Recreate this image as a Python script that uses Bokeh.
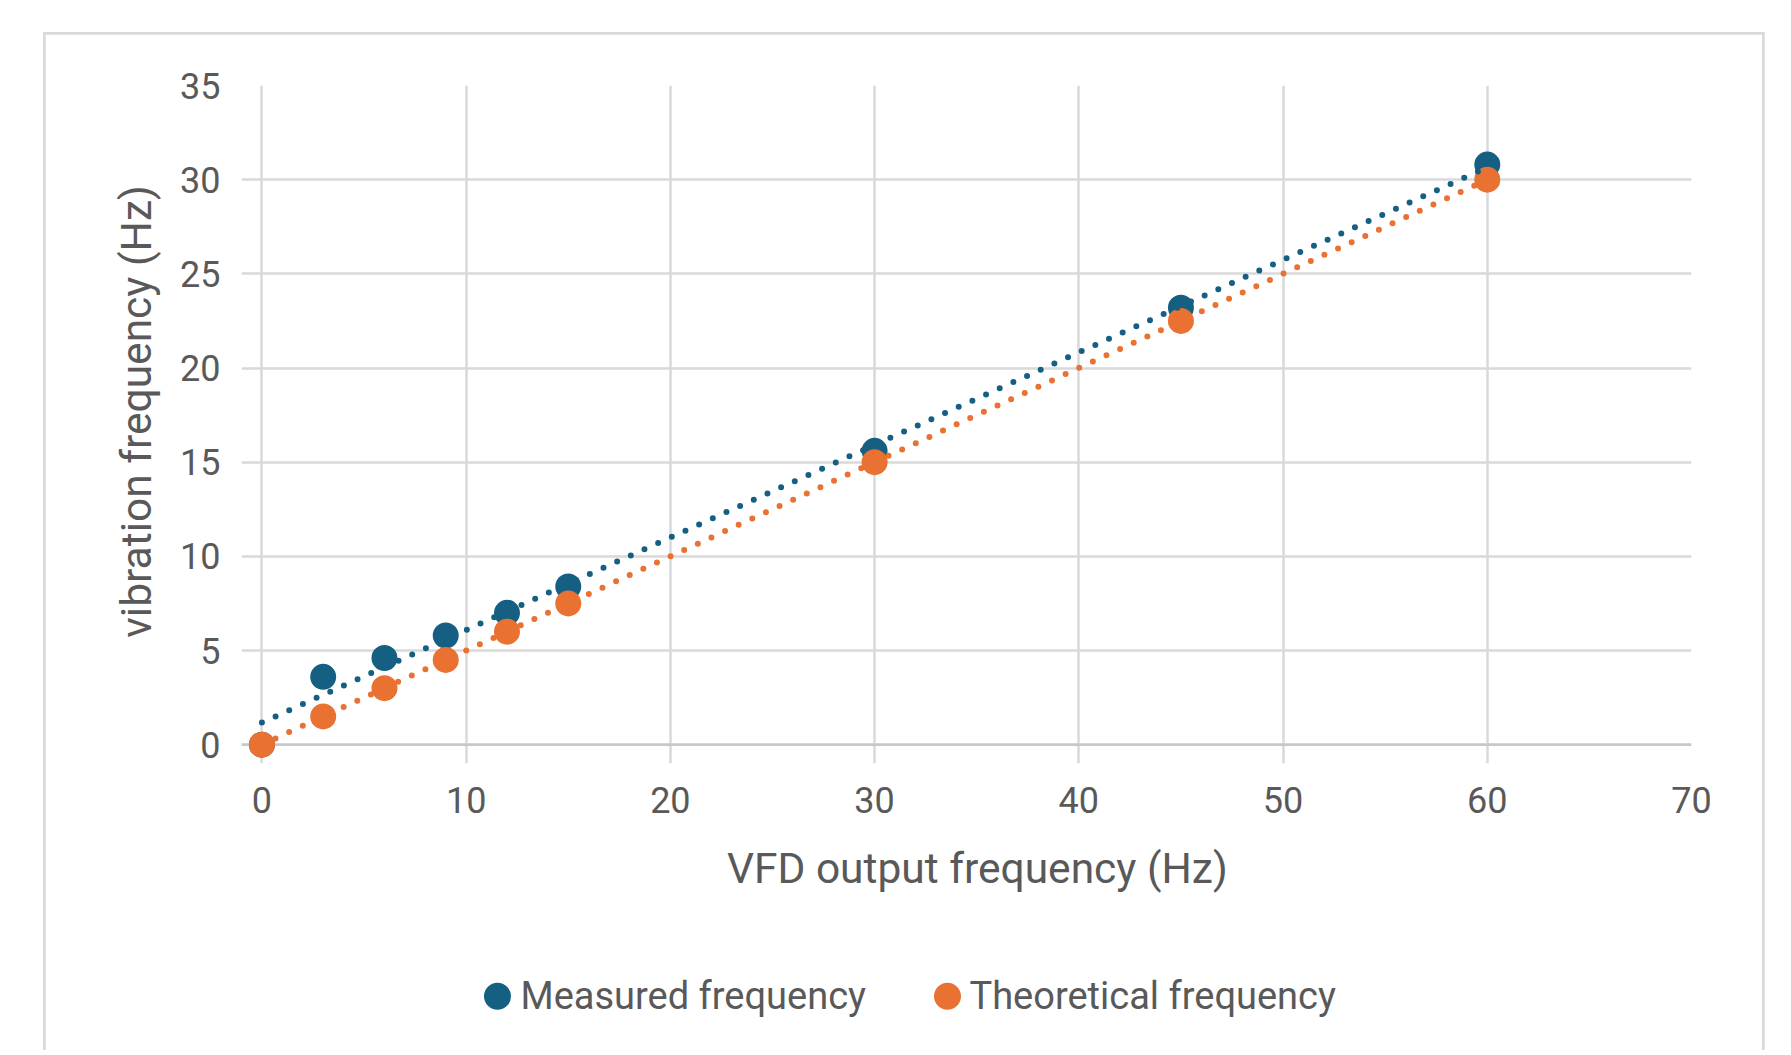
import numpy as np
from bokeh.plotting import figure
from bokeh.layouts import column
from bokeh.models import FixedTicker, Span
from bokeh.core.properties import value
from bokeh.embed import file_html
from bokeh.resources import INLINE

# ---- data ----
vfd_hz = [0, 3, 6, 9, 12, 15, 30, 45, 60]
measured_hz = [0, 3.6, 4.6, 5.8, 7.0, 8.4, 15.6, 23.2, 30.8]
theoretical_hz = [0, 1.5, 3.0, 4.5, 6.0, 7.5, 15.0, 22.5, 30.0]
x_ticks = [0, 10, 20, 30, 40, 50, 60, 70]
y_ticks = [0, 5, 10, 15, 20, 25, 30, 35]
series_names = ["Measured frequency", "Theoretical frequency"]
x_title = "VFD output frequency (Hz)"
y_title = "vibration frequency (Hz)"

BLUE = "#156082"
ORANGE = "#E97132"
GRID = "#D9D9D9"
TEXT = "#595959"
FONT = "Roboto"

W = 1785
H_MAIN, H_LEG = 940, 110
FRAME_L, FRAME_R = 241, 1691          # page pixels of the plot frame
border_css = (
    f"linear-gradient({GRID},{GRID}) 43.3px 32.3px / 2.7px 1200px no-repeat, "
    f"linear-gradient({GRID},{GRID}) 43.3px 32.3px / 1721.7px 2.7px no-repeat, "
    f"linear-gradient({GRID},{GRID}) 1762.3px 32.3px / 2.7px 1200px no-repeat"
)

# a little room below/left of zero so the markers at the origin are not cut
p = figure(width=W, height=H_MAIN, x_range=(-1, 70), y_range=(-1, 35),
           output_backend="svg", toolbar_location=None,
           min_border_left=FRAME_L, min_border_right=W - FRAME_R,
           min_border_top=85, min_border_bottom=H_MAIN - 763,
           border_fill_color=None, background_fill_color="white",
           outline_line_color=None)

p.xaxis.ticker = FixedTicker(ticks=x_ticks)
p.yaxis.ticker = FixedTicker(ticks=y_ticks)
p.xgrid.ticker = FixedTicker(ticks=x_ticks)
p.ygrid.ticker = FixedTicker(ticks=y_ticks)
for g in (p.xgrid, p.ygrid):
    g.grid_line_color = GRID
    g.grid_line_width = 2.5

for ax in (p.xaxis, p.yaxis):
    ax.axis_line_color = None
    ax.major_tick_in = 0
    ax.major_tick_out = 0
    ax.minor_tick_in = 0
    ax.minor_tick_out = 0
    ax.major_label_text_font = FONT
    ax.major_label_text_font_size = "36px"
    ax.major_label_text_color = TEXT
    ax.axis_label_text_font = FONT
    ax.axis_label_text_font_size = "42.5px"
    ax.axis_label_text_font_style = "normal"
    ax.axis_label_text_color = TEXT

p.xaxis.major_label_standoff = 23
p.yaxis.major_label_standoff = 21
# leading spaces re-centre the titles on the 0..70 / 0..35 grid
p.xaxis.axis_label = "\u2002" + x_title
p.yaxis.axis_label = "\u2002\u200a" + y_title
p.xaxis.axis_label_standoff = 28
p.yaxis.axis_label_standoff = 16

# horizontal axis line at zero
p.add_layout(Span(location=0, dimension="width", line_color="#C8C8C8",
                  line_width=2.5, level="underlay"))

# markers
p.scatter(vfd_hz, measured_hz, size=26, marker="circle",
          fill_color=BLUE, line_color=None)
p.scatter(vfd_hz, theoretical_hz, size=26, marker="circle",
          fill_color=ORANGE, line_color=None)

# linear trendlines (least squares from the data)
x_line = np.array([min(vfd_hz), max(vfd_hz)], dtype=float)
for ys, col in ((measured_hz, BLUE), (theoretical_hz, ORANGE)):
    k, b = np.polyfit(vfd_hz, ys, 1)
    p.line(x_line, k * x_line + b, line_color=col, line_width=6,
           line_dash="0 15", line_cap="round")

# ---- legend strip below the chart (pixel-scaled strip, frame aligned with the plot) ----
lf = figure(width=W, height=H_LEG, x_range=(FRAME_L, FRAME_R), y_range=(H_LEG, 0),
            output_backend="svg", toolbar_location=None,
            min_border=0, border_fill_color=None, background_fill_color=None,
            outline_line_color=None)
lf.axis.visible = False
lf.grid.visible = False
legend_swatch_x = [497, 947]
legend_label_x = [520, 969]
legend_row_y = [55.7, 55.7]
lf.scatter(legend_swatch_x, legend_row_y, size=27, marker="circle",
           fill_color=[BLUE, ORANGE], line_color=None)
lf.text(legend_label_x, legend_row_y, text=series_names,
        text_font=value(FONT), text_font_size="38px", text_color=TEXT,
        text_baseline="middle", text_align="left")

layout = column(p, lf, spacing=0)
layout.styles = {"background": border_css}

open("out.html", "w").write(file_html(layout, INLINE))
